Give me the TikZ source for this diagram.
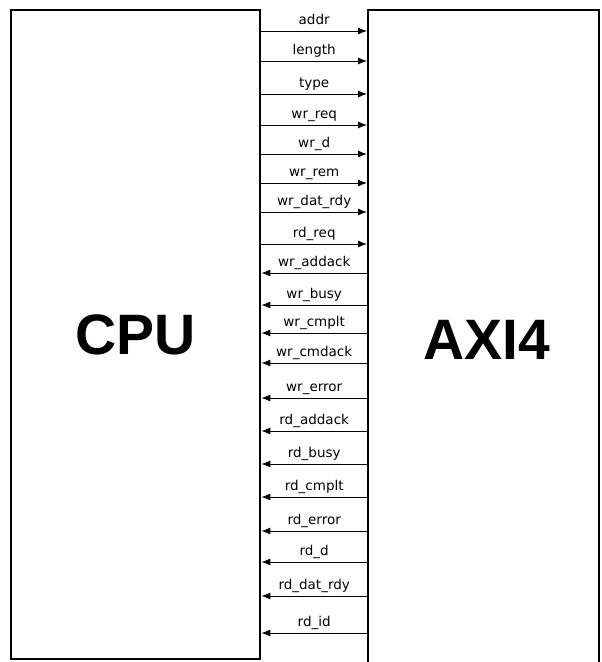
\documentclass[tikz,border=0pt]{standalone}
\usepackage{fontspec}
\setmainfont{DejaVu Sans}
\newfontfamily\blockfont{Liberation Sans}
\usepackage{tikz}
\usetikzlibrary{arrows.meta}
\usetikzlibrary{positioning}

\begin{document}
\begin{tikzpicture}[
  x=1pt, y=-1pt,
  block/.style={draw, line width=2.4pt, anchor=north west, inner sep=0pt},
  blocktext/.style={font=\blockfont\bfseries\fontsize{57}{60}\selectfont, inner sep=0pt},
  sig/.style={font=\fontsize{13.5}{15}\selectfont, text height=10pt, text depth=3pt, inner sep=3pt},
  wire/.style={line width=0.9pt, -{Latex[length=9pt,width=7pt]}}
]
\clip (0,0) rectangle (602,662);
\node[block, minimum width=249pt, minimum height=649pt] (cpu) at (10,9) {};
\node[block, minimum width=231pt, minimum height=700pt] (axi) at (367,9) {};
\node[blocktext] (cpulabel) at (cpu.center) {CPU};
\node[blocktext] (axilabel) at (487,340) {AXI4};
% cpu -> axi
\draw[wire] (cpu.east |- 0,31) -- node[sig, above] {addr} (axi.west |- 0,31);
\draw[wire] (cpu.east |- 0,61) -- node[sig, above] {length} (axi.west |- 0,61);
\draw[wire] (cpu.east |- 0,94) -- node[sig, above] {type} (axi.west |- 0,94);
\draw[wire] (cpu.east |- 0,125) -- node[sig, above] {wr\_req} (axi.west |- 0,125);
\draw[wire] (cpu.east |- 0,154) -- node[sig, above] {wr\_d} (axi.west |- 0,154);
\draw[wire] (cpu.east |- 0,183) -- node[sig, above] {wr\_rem} (axi.west |- 0,183);
\draw[wire] (cpu.east |- 0,212) -- node[sig, above] {wr\_dat\_rdy} (axi.west |- 0,212);
\draw[wire] (cpu.east |- 0,244) -- node[sig, above] {rd\_req} (axi.west |- 0,244);
% axi -> cpu
\draw[wire] (axi.west |- 0,273) -- node[sig, above] {wr\_addack} (cpu.east |- 0,273);
\draw[wire] (axi.west |- 0,305) -- node[sig, above] {wr\_busy} (cpu.east |- 0,305);
\draw[wire] (axi.west |- 0,333) -- node[sig, above] {wr\_cmplt} (cpu.east |- 0,333);
\draw[wire] (axi.west |- 0,363) -- node[sig, above] {wr\_cmdack} (cpu.east |- 0,363);
\draw[wire] (axi.west |- 0,398) -- node[sig, above] {wr\_error} (cpu.east |- 0,398);
\draw[wire] (axi.west |- 0,431) -- node[sig, above] {rd\_addack} (cpu.east |- 0,431);
\draw[wire] (axi.west |- 0,464) -- node[sig, above] {rd\_busy} (cpu.east |- 0,464);
\draw[wire] (axi.west |- 0,497) -- node[sig, above] {rd\_cmplt} (cpu.east |- 0,497);
\draw[wire] (axi.west |- 0,531) -- node[sig, above] {rd\_error} (cpu.east |- 0,531);
\draw[wire] (axi.west |- 0,562) -- node[sig, above] {rd\_d} (cpu.east |- 0,562);
\draw[wire] (axi.west |- 0,596) -- node[sig, above] {rd\_dat\_rdy} (cpu.east |- 0,596);
\draw[wire] (axi.west |- 0,633) -- node[sig, above] {rd\_id} (cpu.east |- 0,633);
\end{tikzpicture}
\end{document}
